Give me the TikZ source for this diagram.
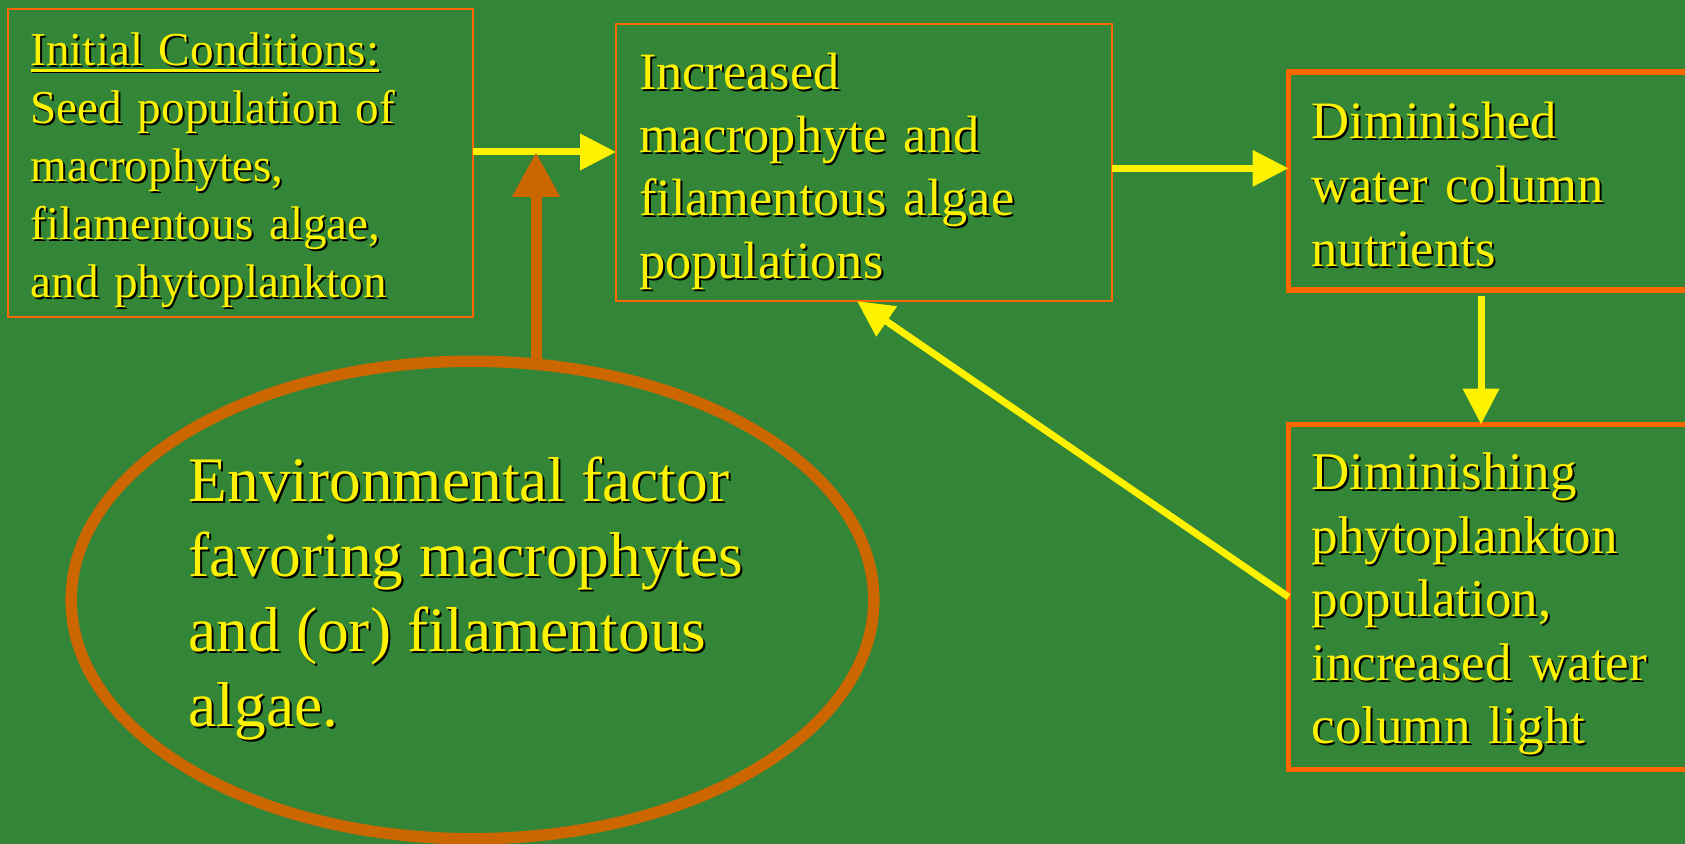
\documentclass[tikz,border=0pt]{standalone}
\usepackage{fontspec}
\setmainfont{Liberation Serif}
\usetikzlibrary{arrows.meta, shapes, positioning, calc}
\definecolor{slidegreen}{RGB}{51,133,56}
\definecolor{boxorange}{RGB}{255,102,0}
\definecolor{ringorange}{RGB}{204,102,0}
\newcommand{\sh}[1]{\leavevmode\rlap{\kern1pt\raisebox{-1pt}{\color{black}#1}}#1}
\newcommand{\ulined}[1]{\setbox0\hbox{#1}\rlap{\rule[-3pt]{\wd0}{1.3pt}}\box0}

\begin{document}
\begin{tikzpicture}[x=0.5pt, y=-0.5pt,
    every node/.style={text=yellow, align=left, inner xsep=11.5pt, inner ysep=0pt, outer sep=0pt},
    thinbox/.style={draw=boxorange, line width=1pt, anchor=north west},
    thickbox/.style={draw=boxorange, line width=2.75pt, anchor=north west},
    feed/.style={yellow, line width=3.5pt, -{Triangle[length=18pt, width=17.5pt]}},
    push/.style={ringorange, line width=5.5pt, -{Triangle[length=22.5pt, width=22.5pt]}}]
    \useasboundingbox (0,0) rectangle (1685,844);
    \clip (0,0) rectangle (1685,844);
    \fill[slidegreen] (0,0) rectangle (1685,844);

    \node[thinbox, minimum width=232.5pt, minimum height=154pt, text width=209.5pt,
        font=\fontsize{23.6}{29}\selectfont] (init) at (7.5,8.6)
        {\sh{\ulined{Initial Conditions:}}\rule{0pt}{25pt}\\ \sh{Seed population of}\\ \sh{macrophytes,}\\
         \sh{filamentous algae,}\\ \sh{and phytoplankton}};
    \node[thinbox, minimum width=248pt, minimum height=138.75pt, text width=225pt,
        font=\fontsize{26.2}{31.5}\selectfont] (incr) at (616,23.6)
        {\sh{Increased}\rule{0pt}{28.7pt}\\ \sh{macrophyte and}\\ \sh{filamentous algae}\\ \sh{populations}};
    \node[thickbox, minimum width=206pt, minimum height=109pt, text width=183pt,
        font=\fontsize{26.3}{32}\selectfont] (nutr) at (1288.5,72)
        {\sh{Diminished}\rule{0pt}{22.4pt}\\ \sh{water column}\\ \sh{nutrients}};
    \node[thickbox, minimum width=206pt, minimum height=172.5pt, text width=183pt,
        font=\fontsize{26.5}{31.75}\selectfont] (light) at (1288.5,424.5)
        {\sh{Diminishing}\rule{0pt}{26.7pt}\\ \sh{phytoplankton}\\ \sh{population,}\\
         \sh{increased water}\\ \sh{column light}};
    \node[ellipse, draw=ringorange, line width=5.75pt, inner xsep=0pt,
        minimum width=399.5pt, minimum height=238.75pt,
        font=\fontsize{31.7}{37.5}\selectfont] (env) at (472.5,600)
        {\sh{Environmental factor}\\ \sh{favoring macrophytes}\rule{6.5pt}{0pt}\\
         \sh{and (or) filamentous}\\ \sh{algae.}};

    % Arrows
    \coordinate (meet) at (536,152);
    \draw[feed] (init.east |- meet) -- (incr.west |- meet);
    \draw[push] (meet |- env.north) -- (meet);
    \draw[feed] ([yshift=-3pt]incr.east) -- ([yshift=-3pt]incr.east -| nutr.west);
    \draw[feed, shorten <=3pt] (nutr.south -| 1481,0) -- (light.north -| 1481,0);
    \draw[feed] (light.west) -- ([xshift=-3.5pt]incr.south);
\end{tikzpicture}
\end{document}
